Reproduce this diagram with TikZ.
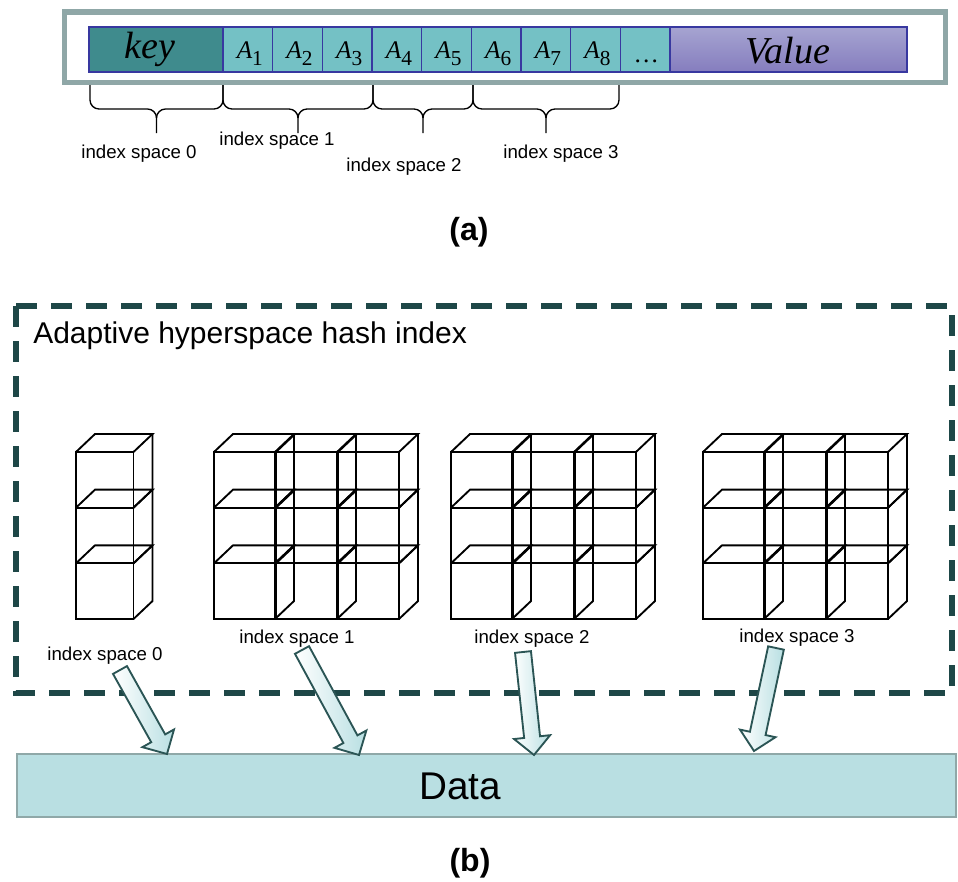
\documentclass[tikz,border=0pt]{standalone}
\usepackage{fontspec}
\setmainfont{Liberation Sans}
\newfontfamily\timesfont{Liberation Serif}
\usetikzlibrary{calc}

\definecolor{framegray}{HTML}{8FA7A7}
\definecolor{cellblue}{HTML}{3838A0}
\definecolor{keyteal}{HTML}{3F8B8D}
\definecolor{attrteal}{HTML}{74C1C5}
\definecolor{valtop}{HTML}{A6A4D1}
\definecolor{valbot}{HTML}{857DBE}
\definecolor{dashteal}{HTML}{1E4747}
\definecolor{datafill}{HTML}{B9DFE2}
\definecolor{dataedge}{HTML}{8FA8A8}
\definecolor{arrowedge}{HTML}{2B5555}
\definecolor{arrowfill}{HTML}{B8DFE2}

% attribute label A_i in a serif italic with a lowered index
\newcommand\attr[1]{{\timesfont\fontsize{19}{20}\selectfont\itshape A}\raisebox{-5.5pt}{\timesfont\fontsize{16}{17}\selectfont #1}}

% hollow block arrow from a tail point to a tip point
\newcommand\blockarrow[2]{%
  \coordinate (#1-base) at ($(#2)!13.5pt!(#1)$);
  \draw[blockarrowstyle]
    ($(#1)!6pt!90:(#2)$) --
    ($(#1-base)!6pt!90:(#2)$) --
    ($(#1-base)!13.6pt!90:(#2)$) --
    (#2) --
    ($(#1-base)!13.6pt!-90:(#2)$) --
    ($(#1-base)!6pt!-90:(#2)$) --
    ($(#1)!6pt!-90:(#2)$) -- cycle;}

\tikzset{
  cell/.style={draw=cellblue, line width=1.1pt, inner sep=0pt, minimum height=33.75pt},
  braceline/.style={line width=1pt, black},
  spacelabel/.style={font=\fontsize{14}{16}\selectfont, inner sep=0pt},
  cubeline/.style={line width=1.4pt, black, line join=miter},
  blockarrowstyle/.style={draw=arrowedge, line width=1.4pt, left color=white, right color=arrowfill, line join=miter},
  pics/cubebox/.style={code={
    \draw[cubeline] (0,0) rectangle (#1,55.67);
    \draw[cubeline] (0,0) -- (19,-18) -- (#1+19,-18) -- (#1,0);
    \draw[cubeline] (#1+19,-18) -- (#1+19,37.67) -- (#1,55.67);
  }}
}

\begin{document}
\begin{tikzpicture}[x=0.75pt,y=-0.75pt]
\useasboundingbox (0,0) rectangle (958,882);

% ---------- (a) record layout ----------
\draw[framegray, line width=3.9pt] (64.5,12) rectangle (945.5,82.5);

\node[cell, fill=keyteal, minimum width=100.5pt] (key) at (156,49.5) {};
\node[inner sep=0pt, anchor=base] (keytxt) at (150,58)
  {\timesfont\fontsize{28.5}{30}\selectfont\itshape key};

\foreach \i in {1,...,8}{
  \node[cell, fill=attrteal, minimum width=37.25pt] (a\i) at ({223+49.67*(\i-0.5)},49.5) {};
  \node[inner sep=0pt, anchor=base] (at\i) at ({223+49.67*(\i-0.5)+2},58) {\attr{\i}};
}
\node[cell, fill=attrteal, minimum width=37.25pt] (a9) at ({223+49.67*8.5},49.5) {};
\node[inner sep=0pt, anchor=base] (dots) at ({223+49.67*8.5+1},62)
  {\timesfont\fontsize{19}{20}\selectfont …};

\node[cell, top color=valtop, bottom color=valbot, minimum width=177.75pt] (value) at (788.5,49.5) {};
\node[inner sep=0pt, anchor=base] (valtxt) at (788,63)
  {\timesfont\fontsize{28.5}{30}\selectfont\itshape Value};

% braces grouping the attributes
\foreach \l/\r in {90/223, 223/373, 373/473, 473/619}{
  \pgfmathsetmacro\m{(\l+\r)/2}
  \draw[braceline] (\l,85) -- (\l,100) to[out=-90,in=180] (\l+9,109)
    -- (\m-9,109) to[out=0,in=90] (\m,118) -- (\m,133);
  \draw[braceline] (\r,85) -- (\r,100) to[out=-90,in=0] (\r-9,109)
    -- (\m+9,109) to[out=180,in=90] (\m,118);
}
\node[spacelabel] (is0a) at (139,154) {index space 0};
\node[spacelabel] (is1a) at (277,141) {index space 1};
\node[spacelabel] (is2a) at (404,167) {index space 2};
\node[spacelabel] (is3a) at (561,154) {index space 3};

\node[font=\bfseries\fontsize{24}{26}\selectfont, inner sep=0pt] (capa) at (469,232) {(a)};

% ---------- (b) hash index over the data ----------
\draw[dashteal, line width=4.5pt, dash pattern=on 15.75pt off 10.5pt] (16,306) rectangle (952,693);
\node[anchor=base west, inner sep=0pt, font=\fontsize{22.5}{24}\selectfont] (title) at (33,343)
  {Adaptive hyperspace hash index};

% cube grids, one per index space
\foreach \r in {0,1,2}{
  \pic at (76,{452+55.67*\r}) {cubebox=57.5};
  \foreach \x in {214,451,703}{
    \foreach \c in {0,1,2}{
      \pic at ({\x+62*\c},{452+55.67*\r}) {cubebox=61};
    }
  }
}
\node[spacelabel] (is0b) at (105,656) {index space 0};
\node[spacelabel] (is1b) at (297,639) {index space 1};
\node[spacelabel] (is2b) at (532,639) {index space 2};
\node[spacelabel] (is3b) at (797,638) {index space 3};

% data store
\node[draw=dataedge, fill=datafill, line width=1.2pt, minimum width=704.25pt, minimum height=47.25pt, inner sep=0pt] (data) at (486.5,785.5) {};
\node[anchor=base, inner sep=0pt, font=\fontsize{29}{31}\selectfont] (datatxt) at (460,799) {Data};

% arrows from each index space down to the data
\coordinate (t0) at (120,670);  \coordinate (h0) at (167,754);
\coordinate (t1) at (302,650);  \coordinate (h1) at (359,755);
\coordinate (t2) at (523,652);  \coordinate (h2) at (534,755);
\coordinate (t3) at (776,648);  \coordinate (h3) at (754,751);
\blockarrow{t0}{h0}
\blockarrow{t1}{h1}
\blockarrow{t2}{h2}
\blockarrow{t3}{h3}

\node[font=\bfseries\fontsize{24}{26}\selectfont, inner sep=0pt] (capb) at (470,863) {(b)};
\end{tikzpicture}
\end{document}
